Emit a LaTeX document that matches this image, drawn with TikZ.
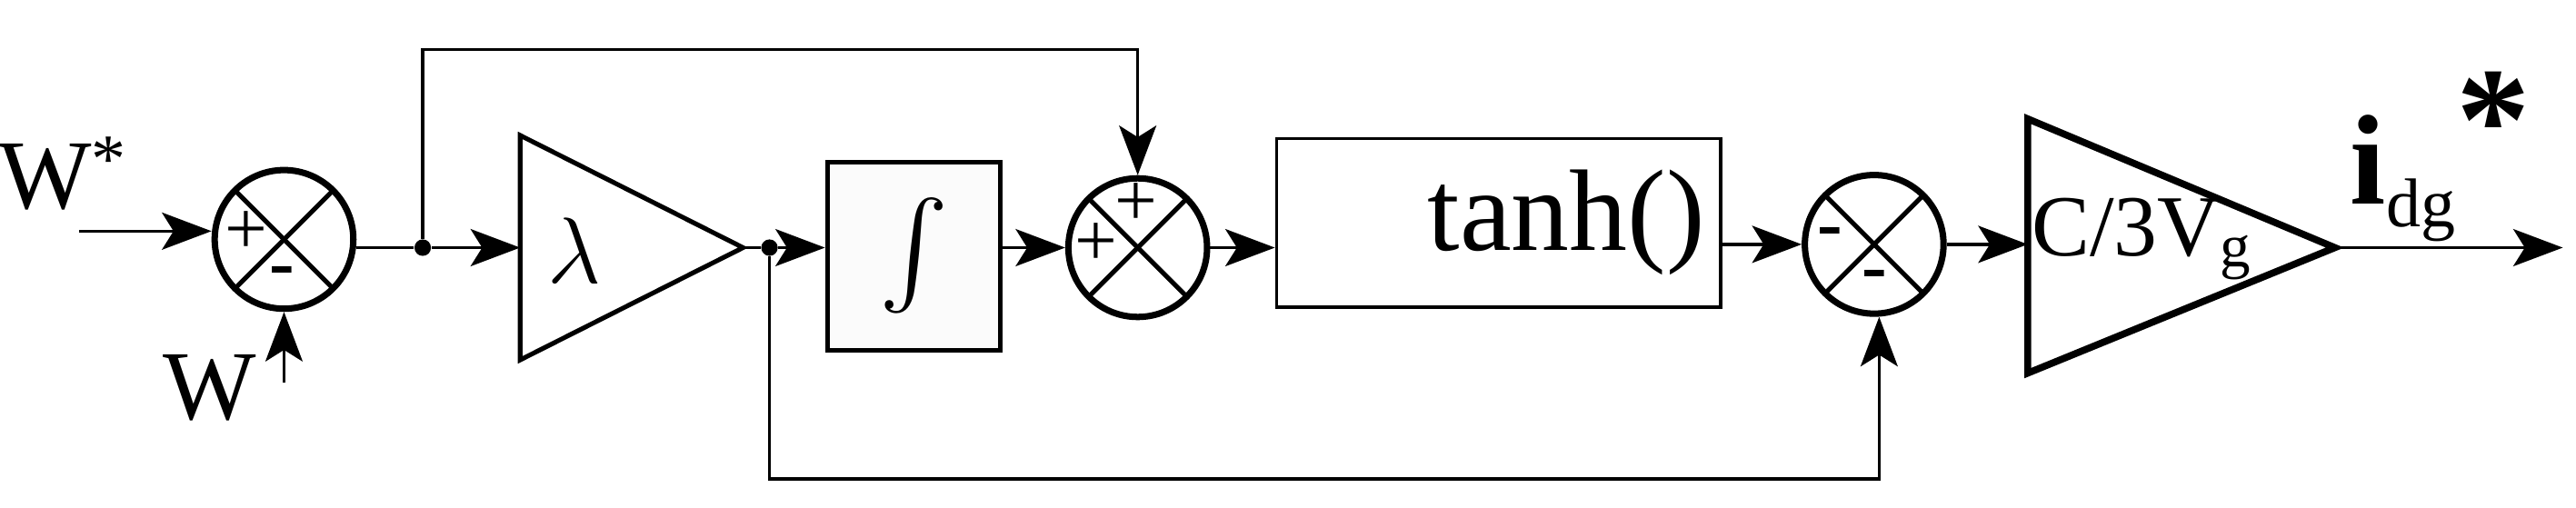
\documentclass[tikz,border=0pt]{standalone}
\usepackage{fontspec}
\setmainfont{Liberation Serif}
\usetikzlibrary{arrows.meta,shapes.geometric}
\begin{document}
\begin{tikzpicture}[x=0.02cm,y=-0.02cm,
  thin line/.style={line width=1.1pt},
  arr/.style={thin line,-{Stealth[length=0.6cm,width=0.45cm,inset=0.14cm]}},
  sum/.style={circle,draw,line width=2.2pt,minimum size=1.68cm,inner sep=0pt,
    path picture={\draw[line width=1.6pt] (path picture bounding box.north west)++(0.25cm,-0.25cm)--([shift={(-0.25cm,0.25cm)}]path picture bounding box.south east);
                  \draw[line width=1.6pt] ([shift={(-0.25cm,-0.25cm)}]path picture bounding box.north east)--([shift={(0.25cm,0.25cm)}]path picture bounding box.south west);}},
  sgn/.style={font=\fontsize{26}{26}\selectfont,inner sep=0pt},
  dot/.style={circle,fill,inner sep=0pt,minimum size=0.2cm},
  lbl/.style={font=\fontsize{34}{34}\selectfont,inner sep=0pt}]
\useasboundingbox (0,0) rectangle (1560,307.7);
% sums
\node[sum] (s1) at (172,145) {};
\node[sum] (s2) at (689,150) {};
\node[sum] (s3) at (1135,148) {};
\node[sgn] at (149,141) {+};
\node[sgn] at (171,168) {\textbf{-}};
\node[sgn] at (664,148) {+};
\node[sgn] at (688,124) {+};
\node[sgn] at (1108,144) {\textbf{-}};
\node[sgn] at (1135,170) {\textbf{-}};
% gain lambda
\draw[line width=1.6pt] (315,82) -- (450,150) -- (315,218) -- cycle;
\coordinate (g1in) at (315,150);
\coordinate (g1out) at (450,150);
\node[lbl] (lam) at (348,152) {\scalebox{1.3}{$\lambda$}};
% integrator
\node[draw,line width=1.6pt,fill=gray!3,minimum width=2.1cm,minimum height=2.28cm,inner sep=0pt] (int) at (553.5,155) {\scalebox{3.6}{$\int$}};
% tanh box
\node[draw,line width=1.1pt,minimum width=5.38cm,minimum height=2.04cm,inner sep=0pt,font=\fontsize{40}{40}\selectfont] (th) at (907.5,135) {\scalebox{1.5}{$\mathbf{\Upsilon}$}tanh()};
% gain C/3Vg
\draw[line width=2.4pt] (1228,72) -- (1414,150) -- (1228,226) -- cycle;
\coordinate (g2in) at (1228,148);
\coordinate (g2out) at (1414,150);
\node[lbl,anchor=west,font=\fontsize{30}{30}\selectfont] at (1230,145) {C/3V\textsubscript{g}};
% labels
\node[lbl] (wstar) at (38,105) {W\textsuperscript{*}};
\node[lbl] (w) at (127,235) {W};
\node[lbl] (idg) at (1478,95) {\scalebox{1.3}{\textbf{i}}\textsubscript{dg}\raisebox{12pt}{\scalebox{1.5}{\textbf{*}}}};
% inputs
\coordinate (in1) at (48,140);
\coordinate (in2) at (172,232);
\coordinate (out) at (1552,150);
\draw[arr] (in1) -- (s1.west |- in1);
\draw[arr] (in2) -- (s1.south);
% main path
\node[dot] (j1) at (256,150) {};
\node[dot] (j2) at (466,150) {};
\draw[thin line] (s1.east |- j1) -- (j1);
\draw[arr] (j1) -- (g1in);
\draw[thin line] (g1out) -- (j2);
\draw[arr] (j2) -- (int.west |- j2);
\draw[arr] (int.east |- s2) -- (s2.west);
\draw[arr] (s2.east) -- (th.west |- s2);
\draw[arr] (th.east |- s3) -- (s3.west);
\draw[arr] (s3.east) -- (g2in);
\draw[arr] (g2out) -- (out);
% feedbacks
\coordinate (c1) at (256,30);
\coordinate (c2) at (689,30);
\draw[arr] (j1) -- (c1) -- (c2) -- (s2.north);
\coordinate (c3) at (466,290);
\coordinate (c4) at (1138,290);
\draw[arr] (j2) -- (c3) -- (c4) -- (s3.south -| c4);
\end{tikzpicture}
\end{document}
